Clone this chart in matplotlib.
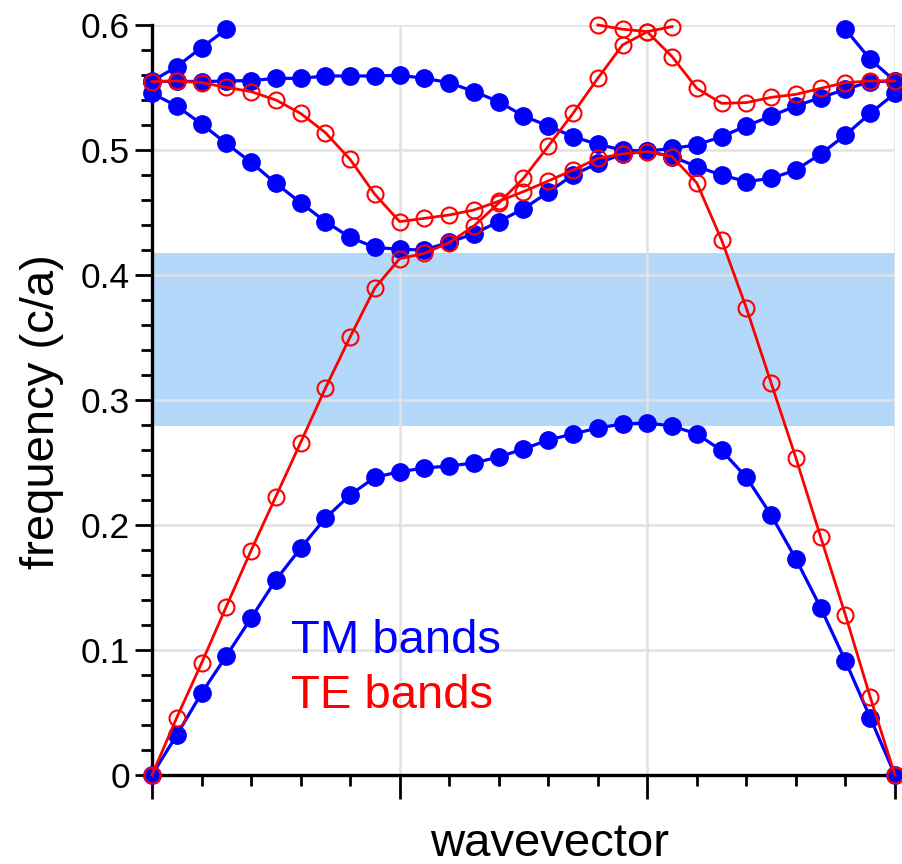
import numpy as np
import matplotlib
matplotlib.use('Agg')
import matplotlib.pyplot as plt
from matplotlib.ticker import MultipleLocator, FixedLocator

nan = np.nan

# k-point index along the path (10 points per segment)
k = np.arange(31)

# TM bands (filled blue)
tm1 = [0, .032, .0654, .0952, .1254, .156, .1814, .2054, .224, .2382, .2426,
       .2456, .2472, .2496, .2544, .2608, .268, .2728, .2776, .2808, .2816,
       .2792, .2728, .2596, .2381, .208, .1728, .1339, .0912, .0459, 0]
tm2 = [.5453, .5352, .5208, .5053, .4901, .4733, .4579, .4427, .4301, .4221, .4205,
       .42, .4262, .433, .4427, .453, .4662, .48, .4893, .4968, .499,
       .4947, .4867, .48, .4747, .4773, .484, .4968, .512, .5293, .5453]
tm3 = [.5547, .555, .5547, .5552, .5555, .5573, .5573, .5592, .5592, .5592, .5598,
       .5573, .5539, .5467, .5387, .5272, .5192, .5107, .5045, .5, .499,
       .5013, .504, .5107, .5192, .5272, .5352, .5419, .5485, .5547, .5552]
tm4 = [.555, .5667, .5819, .5965] + [nan] * 24 + [.5965, .5725, .5552]

# TE bands (open red)
te1 = [0, .0459, .0894, .1347, .1795, .2227, .2659, .3093, .3504, .3896, .413,
       .4173, .4259, .4392, .4575, .4773, .503, .5293, .5573, .584, .5945,
       .5747, .5493, .5373, .5379, .5421, .5445, .5493, .5539, .5552, .5552]
te2 = [.5547, .5552, .5539, .5501, .5467, .54, .5293, .5139, .4925, .4645, .4427,
       .4453, .448, .452, .459, .4667, .4752, .484, .4933, .4968, .4987,
       .4947, .4736, .428, .3736, .3136, .2536, .1904, .128, .0624, 0]
te3 = [nan] * 18 + [.6, .5966, .5947, .5987] + [nan] * 9

# TM band gap
gap_lo, gap_hi = 0.2792, 0.4176

ytick_vals = [0, 0.1, 0.2, 0.3, 0.4, 0.5, 0.6]
ytick_labels = ['0', '0.1', '0.2', '0.3', '0.4', '0.5', '0.6']


def main():
    plt.rcParams['font.family'] = ['Liberation Sans', 'DejaVu Sans']
    fig = plt.figure(figsize=(9.03, 8.64), dpi=100)
    ax = fig.add_axes([0.1683, 0.1030, 0.8228, 0.8681])

    ax.axhspan(gap_lo, gap_hi, color='#b4d8fa', lw=0, zorder=0.2)

    for band in (tm1, tm2, tm3, tm4):
        ax.plot(k, band, '-o', color='#0000ff', lw=2.3, ms=12.5,
                mec='#0000ff', mfc='#0000ff', clip_on=False, zorder=3)
    for band in (te1, te2, te3):
        ax.plot(k, band, '-o', color='#ff0000', lw=2.0, ms=11.5,
                mec='#ff0000', mfc='none', mew=1.5, clip_on=False, zorder=4)

    ax.set_xlim(0, 30)
    ax.set_ylim(0, 0.6)

    ax.xaxis.set_major_locator(FixedLocator([0, 10, 20, 30]))
    ax.xaxis.set_minor_locator(MultipleLocator(2))
    ax.set_xticklabels([])
    ax.yaxis.set_major_locator(FixedLocator(ytick_vals))
    ax.set_yticklabels(ytick_labels)
    ax.yaxis.set_minor_locator(MultipleLocator(0.02))

    ax.tick_params(which='major', direction='out', width=2, color='black',
                   labelsize=25.5, pad=4)
    ax.tick_params(axis='x', which='major', length=17)
    ax.tick_params(axis='y', which='major', length=12)
    ax.tick_params(which='minor', direction='out', width=2, length=8)

    for side in ('top', 'right'):
        ax.spines[side].set_visible(False)
    for side in ('left', 'bottom'):
        ax.spines[side].set_linewidth(2.4)

    ax.set_axisbelow(True)
    ax.grid(True, which='major', color='#e2e2e2', lw=1.8, zorder=0.5)

    ax.set_ylabel('frequency (c/a)', fontsize=34)
    ax.yaxis.set_label_coords(-0.118, 0.485)
    ax.set_xlabel('wavevector', fontsize=34)
    ax.xaxis.set_label_coords(0.535, -0.062)

    ax.text(5.6, 0.0976, 'TM bands', color='#0000ff', fontsize=34)
    ax.text(5.6, 0.0536, 'TE bands', color='#ff0000', fontsize=34)

    fig.savefig('out.png', dpi=100)


if __name__ == "__main__":
    main()
